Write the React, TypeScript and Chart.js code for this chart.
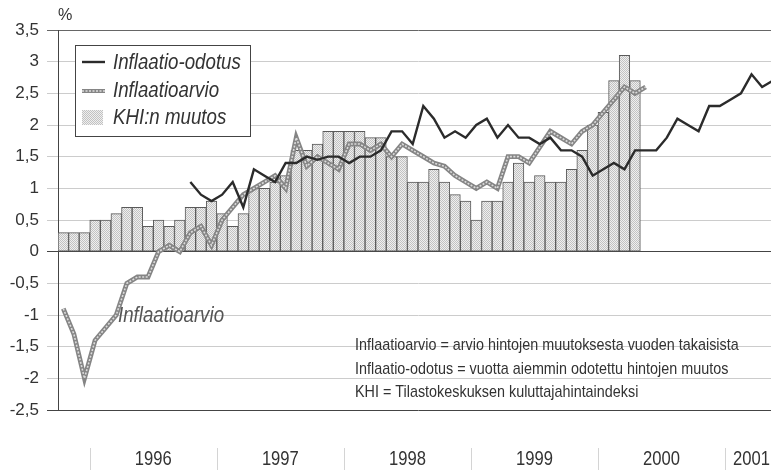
import React, { useEffect, useRef } from 'react';
import { Chart, registerables } from 'chart.js';

Chart.register(...registerables);

const FONT = "'Liberation Sans', Arial, sans-serif";
const NARROW = 0.83; // horizontal squeeze to mimic a condensed face

// Monthly categories, Oct 1995 .. May 2001
const START_YEAR = 1995;
const START_MONTH = 10;
const N_MONTHS = 68;
const MONTHS: string[] = [];
for (let i = 0; i < N_MONTHS; i++) {
  const m0 = START_MONTH - 1 + i;
  const y = START_YEAR + Math.floor(m0 / 12);
  const m = (m0 % 12) + 1;
  MONTHS.push(`${y}-${String(m).padStart(2, '0')}`);
}

// year labels: label, first and last visible month of the year band
const YEAR_LABELS = ['1996', '1997', '1998', '1999', '2000', '2001'];
const YEAR_FIRST = ['1996-01', '1997-01', '1998-01', '1999-01', '2000-01', '2001-01'];
const YEAR_LAST = ['1996-12', '1997-12', '1998-12', '1999-12', '2000-12', '2001-05'];

// KHI:n muutos (bars), Oct 1995 .. Apr 2000
const KHI = [
  0.3, 0.3, 0.3,
  0.5, 0.5, 0.6, 0.7, 0.7, 0.4, 0.5, 0.4, 0.5, 0.7, 0.7, 0.8,
  0.6, 0.4, 0.6, 1.0, 1.0, 1.1, 1.2, 1.6, 1.6, 1.7, 1.9, 1.9,
  1.9, 1.9, 1.8, 1.8, 1.5, 1.5, 1.1, 1.1, 1.3, 1.1, 0.9, 0.8,
  0.5, 0.8, 0.8, 1.1, 1.4, 1.1, 1.2, 1.1, 1.1, 1.3, 1.6, 2.0,
  2.2, 2.7, 3.1, 2.7,
];

// Inflaatioarvio, Oct 1995 .. May 2000
const ARVIO = [
  -0.9, -1.3, -2.0,
  -1.4, -1.2, -1.0, -0.5, -0.4, -0.4, 0.0, 0.1, 0.0, 0.3, 0.4, 0.1,
  0.5, 0.7, 0.9, 1.0, 1.1, 1.2, 1.0, 1.8, 1.35, 1.5, 1.4, 1.3,
  1.7, 1.7, 1.6, 1.7, 1.5, 1.7, 1.6, 1.5, 1.4, 1.35, 1.2, 1.1,
  1.0, 1.1, 1.0, 1.5, 1.5, 1.4, 1.65, 1.9, 1.8, 1.7, 1.9, 2.0,
  2.2, 2.4, 2.6, 2.5, 2.6,
];

// Inflaatio-odotus, Oct 1995 .. May 2001
const ODOTUS: (number | null)[] = [
  null, null, null,
  null, null, null, null, null, null, null, null, null, 1.1, 0.9, 0.8,
  0.9, 1.1, 0.7, 1.3, 1.2, 1.1, 1.4, 1.4, 1.5, 1.45, 1.5, 1.5,
  1.4, 1.5, 1.5, 1.6, 1.9, 1.9, 1.7, 2.3, 2.1, 1.8, 1.9, 1.8,
  2.0, 2.1, 1.8, 2.0, 1.8, 1.8, 1.7, 1.8, 1.6, 1.6, 1.5, 1.2,
  1.3, 1.4, 1.3, 1.6, 1.6, 1.6, 1.8, 2.1, 2.0, 1.9, 2.3, 2.3,
  2.4, 2.5, 2.8, 2.6, 2.7,
];

const Y_MIN = -2.5;
const Y_MAX = 3.5;
const Y_STEP = 0.5;

const NOTES = [
  'Inflaatioarvio = arvio hintojen muutoksesta vuoden takaisista',
  'Inflaatio-odotus = vuotta aiemmin odotettu hintojen muutos',
  'KHI = Tilastokeskuksen kuluttajahintaindeksi',
];

const LEGEND = ['Inflaatio-odotus', 'Inflaatioarvio', 'KHI:n muutos'];
const INLINE_LABEL = 'Inflaatioarvio';
const UNIT = '%';

const TEXT = '#333333';
const ODOTUS_COLOR = '#2b2b2b';
const ARVIO_OUTER = '#858585';
const ARVIO_INNER = '#dcdcdc';

function makeBarPattern(): CanvasPattern | string {
  const c = document.createElement('canvas');
  c.width = 2;
  c.height = 2;
  const g = c.getContext('2d');
  if (!g) return '#dadada';
  g.fillStyle = '#efefef';
  g.fillRect(0, 0, 2, 2);
  g.fillStyle = '#c2c2c2';
  g.fillRect(0, 0, 1, 1);
  g.fillRect(1, 1, 1, 1);
  const p = g.createPattern(c, 'repeat');
  return p || '#dadada';
}

function narrowText(
  ctx: CanvasRenderingContext2D,
  text: string,
  x: number,
  y: number,
  font: string,
  align: CanvasTextAlign = 'left',
  squeeze = NARROW,
) {
  ctx.save();
  ctx.font = font;
  ctx.textAlign = align;
  ctx.textBaseline = 'middle';
  ctx.translate(x, y);
  ctx.scale(squeeze, 1);
  ctx.fillText(text, 0, 0);
  ctx.restore();
}

export default function App() {
  const ref = useRef<HTMLCanvasElement | null>(null);

  useEffect(() => {
    if (!ref.current) return;
    const pattern = makeBarPattern();

    const decor = {
      id: 'decor',
      afterDraw(chart: any) {
        const ctx = chart.ctx as CanvasRenderingContext2D;
        const xs = chart.scales.x;
        const area = chart.chartArea;
        const band = xs.getPixelForValue(1) - xs.getPixelForValue(0);
        ctx.save();
        ctx.fillStyle = TEXT;

        // unit
        narrowText(ctx, UNIT, area.left, 15, `17px ${FONT}`, 'left', 0.95);

        // year separators and labels under the axis
        ctx.strokeStyle = '#d4d4d4';
        ctx.lineWidth = 1;
        YEAR_LABELS.forEach((lab, k) => {
          const i0 = MONTHS.indexOf(YEAR_FIRST[k]);
          const i1 = MONTHS.indexOf(YEAR_LAST[k]);
          const left = xs.getPixelForValue(i0) - band / 2;
          const right = xs.getPixelForValue(i1) + band / 2;
          const sx = Math.round(left) + 0.5;
          ctx.beginPath();
          ctx.moveTo(sx, 448);
          ctx.lineTo(sx, 470);
          ctx.stroke();
          ctx.fillStyle = TEXT;
          narrowText(ctx, lab, (left + right) / 2, 459, `20px ${FONT}`, 'center');
        });

        // legend box
        const lx = 75.5, ly = 45.5, lw = 175, lh = 91;
        ctx.fillStyle = '#ffffff';
        ctx.fillRect(lx, ly, lw, lh);
        ctx.strokeStyle = '#444';
        ctx.lineWidth = 1;
        ctx.strokeRect(lx, ly, lw, lh);

        // sample: Inflaatio-odotus
        ctx.strokeStyle = ODOTUS_COLOR;
        ctx.lineWidth = 2.4;
        ctx.beginPath();
        ctx.moveTo(82, 62);
        ctx.lineTo(105, 62);
        ctx.stroke();
        // sample: Inflaatioarvio
        ctx.strokeStyle = ARVIO_OUTER;
        ctx.lineWidth = 4;
        ctx.beginPath();
        ctx.moveTo(82, 91);
        ctx.lineTo(105, 91);
        ctx.stroke();
        ctx.strokeStyle = ARVIO_INNER;
        ctx.lineWidth = 1.5;
        ctx.setLineDash([2, 1.5]);
        ctx.beginPath();
        ctx.moveTo(82, 91);
        ctx.lineTo(105, 91);
        ctx.stroke();
        ctx.setLineDash([]);
        // sample: KHI
        ctx.fillStyle = pattern as any;
        ctx.fillRect(82, 110, 21, 15);

        ctx.fillStyle = TEXT;
        narrowText(ctx, LEGEND[0], 113, 63, `italic 22px ${FONT}`, 'left', 0.85);
        narrowText(ctx, LEGEND[1], 113, 91, `italic 22px ${FONT}`, 'left', 0.85);
        narrowText(ctx, LEGEND[2], 113, 118, `italic 22px ${FONT}`, 'left', 0.85);

        // inline series label
        ctx.fillStyle = '#555555';
        narrowText(ctx, INLINE_LABEL, 118, 316, `italic 22px ${FONT}`, 'left', 0.85);

        // notes
        ctx.fillStyle = TEXT;
        narrowText(ctx, NOTES[0], 355, 345, `17px ${FONT}`, 'left', 0.845);
        narrowText(ctx, NOTES[1], 355, 369, `17px ${FONT}`, 'left', 0.845);
        narrowText(ctx, NOTES[2], 355, 392, `17px ${FONT}`, 'left', 0.845);

        ctx.restore();
      },
    };

    const gridColor = (c: any) => {
      const v = c.tick?.value;
      if (v === 0 || v === Y_MIN) return '#444444';
      if (v === Y_MAX) return '#666666';
      return '#cccccc';
    };

    const chart = new Chart(ref.current, {
      type: 'bar',
      data: {
        labels: MONTHS,
        datasets: [
          {
            type: 'line',
            label: 'Inflaatio-odotus',
            data: ODOTUS,
            borderColor: ODOTUS_COLOR,
            borderWidth: 2.4,
            pointRadius: 0,
            tension: 0,
            spanGaps: false,
            order: 0,
          } as any,
          {
            type: 'line',
            label: 'Inflaatioarvio (texture)',
            data: ARVIO,
            borderColor: ARVIO_INNER,
            borderWidth: 1.6,
            borderDash: [2, 1.5],
            pointRadius: 0,
            tension: 0,
            order: 1,
          } as any,
          {
            type: 'line',
            label: 'Inflaatioarvio',
            data: ARVIO,
            borderColor: ARVIO_OUTER,
            borderWidth: 4.8,
            pointRadius: 0,
            tension: 0,
            order: 2,
          } as any,
          {
            type: 'bar',
            label: 'KHI:n muutos',
            data: KHI,
            backgroundColor: pattern as any,
            borderColor: '#5a5a5a',
            borderWidth: 1,
            borderSkipped: false,
            barPercentage: 1,
            categoryPercentage: 1,
            order: 3,
          } as any,
        ],
      },
      options: {
        animation: false,
        responsive: false,
        maintainAspectRatio: false,
        layout: { padding: { top: 30, left: 0, right: 0, bottom: 0 } },
        plugins: {
          legend: { display: false },
          tooltip: { enabled: false },
          title: { display: false },
        },
        scales: {
          x: {
            type: 'category',
            offset: true,
            grid: { display: false, drawTicks: false },
            border: { display: false },
            ticks: { display: false },
            afterFit: (s: any) => {
              s.height = 60;
            },
          },
          y: {
            min: Y_MIN,
            max: Y_MAX,
            ticks: {
              stepSize: Y_STEP,
              padding: 8,
              color: TEXT,
              font: { family: FONT, size: 17 },
              callback: (v: any) => String(Math.round(Number(v) * 10) / 10).replace('.', ','),
            },
            grid: {
              color: gridColor,
              tickColor: gridColor,
              tickLength: 11,
              drawTicks: true,
              lineWidth: 1,
            },
            border: { display: true, color: '#444444', width: 1 },
            afterFit: (s: any) => {
              s.width = 58;
            },
          },
        },
      },
      plugins: [decor],
    } as any);

    return () => chart.destroy();
  }, []);

  return (
    <div
      style={{
        position: 'fixed',
        left: 0,
        top: 0,
        width: 771,
        height: 470,
        overflow: 'hidden',
        background: '#ffffff',
      }}
    >
      <canvas ref={ref} width={778} height={470} style={{ width: 778, height: 470, display: 'block' }} />
    </div>
  );
}
